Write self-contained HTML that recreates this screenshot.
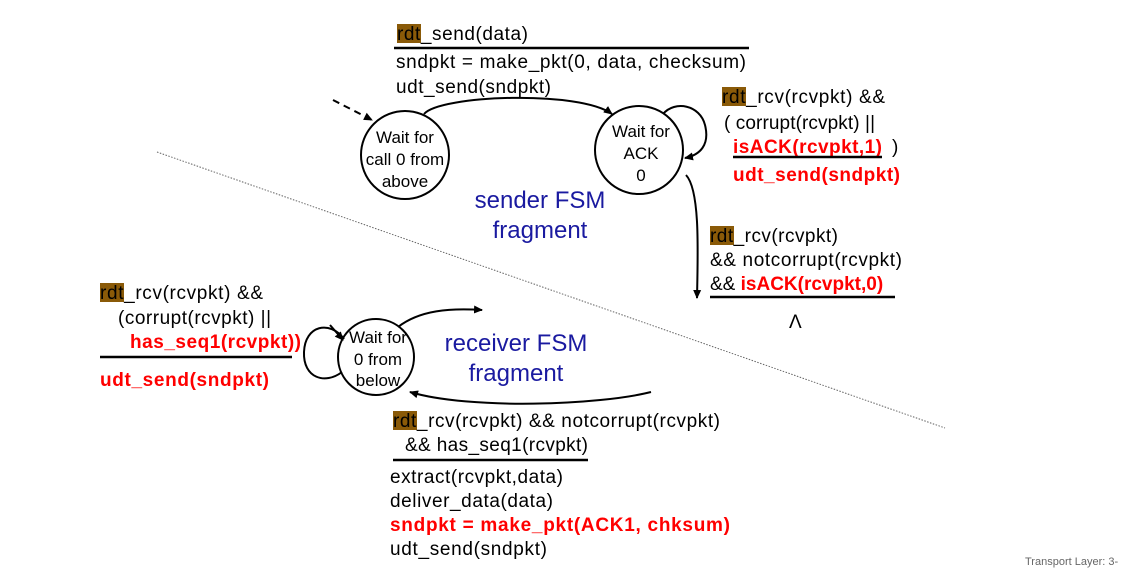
<!DOCTYPE html>
<html><head><meta charset="utf-8"><style>
body{margin:0;background:#fff;}
svg{display:block;font-family:"Liberation Sans",Arial,sans-serif;}
.t{font-size:19px;fill:#000;}
.r{font-size:19px;fill:#f00;font-weight:bold;}
.c{font-size:17px;fill:#000;text-anchor:middle;}
.b{font-size:24px;fill:#1a1aa0;text-anchor:middle;}
</style></head><body>
<svg width="1131" height="573" viewBox="0 0 1131 573">
<defs><marker id="a" markerWidth="10" markerHeight="10" refX="8" refY="5" orient="auto" markerUnits="userSpaceOnUse"><path d="M0,1 L9,5 L0,9 Z" fill="#000"/></marker></defs>
<line x1="157" y1="152" x2="945" y2="428" stroke="#666" stroke-width="1" stroke-dasharray="1.5,1.5"/>
<rect x="397" y="24" width="24" height="19" fill="#8a5a08"/>
<rect x="722" y="87" width="24" height="19" fill="#8a5a08"/>
<rect x="710" y="226" width="24" height="19" fill="#8a5a08"/>
<rect x="100" y="283" width="24" height="19" fill="#8a5a08"/>
<rect x="393" y="411" width="24" height="19" fill="#8a5a08"/>
<text class="t" x="397" y="40" textLength="131">rdt_send(data)</text>
<line x1="394" y1="48" x2="749" y2="48" stroke="#000" stroke-width="2.5"/>
<text class="t" x="396" y="68" textLength="350">sndpkt = make_pkt(0, data, checksum)</text>
<text class="t" x="396" y="93" textLength="155">udt_send(sndpkt)</text>
<circle cx="405" cy="155" r="44" fill="none" stroke="#000" stroke-width="2"/>
<text class="c" x="405" y="143">Wait for</text>
<text class="c" x="405" y="165">call 0 from</text>
<text class="c" x="405" y="187">above</text>
<circle cx="639" cy="150" r="44" fill="none" stroke="#000" stroke-width="2"/>
<text class="c" x="641" y="137">Wait for</text>
<text class="c" x="641" y="159">ACK</text>
<text class="c" x="641" y="181">0</text>
<text class="b" x="540" y="208">sender FSM</text>
<text class="b" x="540" y="238">fragment</text>
<path d="M333,100 L372,120" stroke="#000" stroke-width="2" fill="none" stroke-dasharray="7,5" marker-end="url(#a)"/>
<path d="M424,114 C440,95 580,90 612,114" stroke="#000" stroke-width="2" fill="none" marker-end="url(#a)"/>
<path d="M663,114 C675,100 700,105 705,125 C710,145 700,155 685,158" stroke="#000" stroke-width="2" fill="none" marker-end="url(#a)"/>
<path d="M686,175 C700,190 698,250 697,298" stroke="#000" stroke-width="2" fill="none" marker-end="url(#a)"/>
<text class="t" x="722" y="103" textLength="163">rdt_rcv(rcvpkt) &amp;&amp;</text>
<text class="t" x="724" y="129" textLength="151">( corrupt(rcvpkt) ||</text>
<text class="r" x="733" y="153" textLength="149">isACK(rcvpkt,1)</text><text class="t" x="892" y="153">)</text>
<line x1="733" y1="157" x2="882" y2="157" stroke="#000" stroke-width="2.5"/>
<text class="r" x="733" y="181" textLength="167">udt_send(sndpkt)</text>
<text class="t" x="710" y="242" textLength="128">rdt_rcv(rcvpkt)</text>
<text class="t" x="710" y="266" textLength="192">&amp;&amp; notcorrupt(rcvpkt)</text>
<text class="t" x="710" y="290">&amp;&amp; <tspan fill="#f00" font-weight="bold">isACK(rcvpkt,0)</tspan></text>
<line x1="710" y1="297" x2="895" y2="297" stroke="#000" stroke-width="2.5"/>
<text class="t" x="789" y="328" font-size="16">Λ</text>
<text class="t" x="100" y="299" textLength="163">rdt_rcv(rcvpkt) &amp;&amp;</text>
<text class="t" x="118" y="324" textLength="153">(corrupt(rcvpkt) ||</text>
<text class="r" x="130" y="348" textLength="171">has_seq1(rcvpkt))</text>
<line x1="100" y1="357" x2="292" y2="357" stroke="#000" stroke-width="2.5"/>
<text class="r" x="100" y="386" textLength="169">udt_send(sndpkt)</text>
<circle cx="376" cy="357" r="38" fill="none" stroke="#000" stroke-width="2"/>
<text class="c" x="378" y="343">Wait for</text>
<text class="c" x="378" y="365">0 from</text>
<text class="c" x="378" y="386">below</text>
<path d="M344,339 C330,320 305,325 304,352 C303,378 325,385 342,372" stroke="#000" stroke-width="2" fill="none"/>
<path d="M330,325 L343,340" stroke="#000" stroke-width="2" fill="none" marker-end="url(#a)"/>
<path d="M398,327 C420,310 450,308 482,310" stroke="#000" stroke-width="2" fill="none" marker-end="url(#a)"/>
<path d="M651,392 C600,405 470,410 410,392" stroke="#000" stroke-width="2" fill="none" marker-end="url(#a)"/>
<text class="b" x="516" y="351">receiver FSM</text>
<text class="b" x="516" y="381">fragment</text>
<text class="t" x="393" y="427" textLength="327">rdt_rcv(rcvpkt) &amp;&amp; notcorrupt(rcvpkt)</text>
<text class="t" x="405" y="451" textLength="183">&amp;&amp; has_seq1(rcvpkt)</text>
<line x1="393" y1="460" x2="588" y2="460" stroke="#000" stroke-width="2.5"/>
<text class="t" x="390" y="483" textLength="173">extract(rcvpkt,data)</text>
<text class="t" x="390" y="507" textLength="163">deliver_data(data)</text>
<text class="r" x="390" y="531" textLength="340">sndpkt = make_pkt(ACK1, chksum)</text>
<text class="t" x="390" y="555" textLength="157">udt_send(sndpkt)</text>
<text x="1025" y="565" font-size="11" fill="#666">Transport Layer: 3-</text>
</svg>
</body></html>
